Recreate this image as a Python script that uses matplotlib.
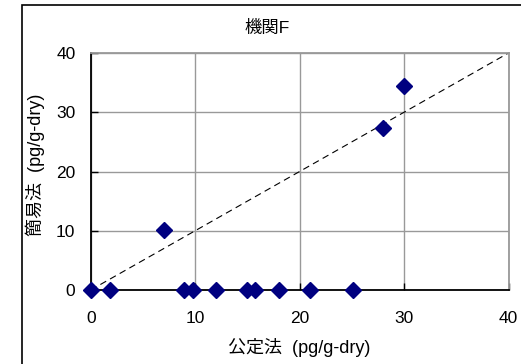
import matplotlib
matplotlib.use("Agg")
import matplotlib.pyplot as plt
from matplotlib.patches import Rectangle

plt.rcParams['font.family'] = ['Liberation Sans', 'Noto Sans CJK JP']

title = "機関F"
xlabel = "公定法  (pg/g-dry)"
ylabel = "簡易法  (pg/g-dry)"
x_vals = [0, 1.8, 8.9, 9.8, 12.0, 15.0, 15.7, 18.0, 21.0, 25.1, 7.0, 28.0, 30.0]
y_vals = [0, 0, 0, 0, 0, 0, 0, 0, 0, 0, 10.1, 27.4, 34.4]
ref_line = [0, 40]
ticks = [0, 10, 20, 30, 40]

fig = plt.figure(figsize=(5.21, 3.64), dpi=100)
fig.patches.append(Rectangle((22/521, -0.1), 1.1, (364-5)/364 + 0.1, transform=fig.transFigure,
                             fill=False, edgecolor='black', linewidth=1.2))
ax = fig.add_axes([90.7/521, 74/364, (508.5-90.7)/521, (290-53)/364])
ax.set_xlim(0, 40)
ax.set_ylim(0, 40)
ax.set_xticks(ticks)
ax.set_yticks(ticks)
ax.grid(True, color='#999999', linewidth=1.0)
ax.set_axisbelow(True)
for s in ['top', 'right']:
    ax.spines[s].set_color('#999999')
    ax.spines[s].set_linewidth(1.3)
for s in ['left', 'bottom']:
    ax.spines[s].set_color('#000000')
    ax.spines[s].set_linewidth(1.3)
ax.tick_params(direction='in', length=5, width=1.0, color='black', labelsize=12.5)
ax.tick_params(axis='x', pad=15)
ax.tick_params(axis='y', pad=11)
ax.plot(ref_line, ref_line, color='black', linestyle=(0, (6, 4)), linewidth=0.8, zorder=2)
ax.plot(x_vals, y_vals, linestyle='none', marker='D', markersize=8, color='#000080', clip_on=False, zorder=3)
fig.text(267/521, 1 - 27.5/364, title, fontsize=12.5, ha='center', va='center')
ax.set_xlabel(xlabel, fontsize=13, labelpad=9)
ax.set_ylabel(ylabel, fontsize=13)
ax.yaxis.set_label_coords((45 - 90.7)/417.8, (290-165)/(290-53))
fig.savefig("out.png", dpi=100)
